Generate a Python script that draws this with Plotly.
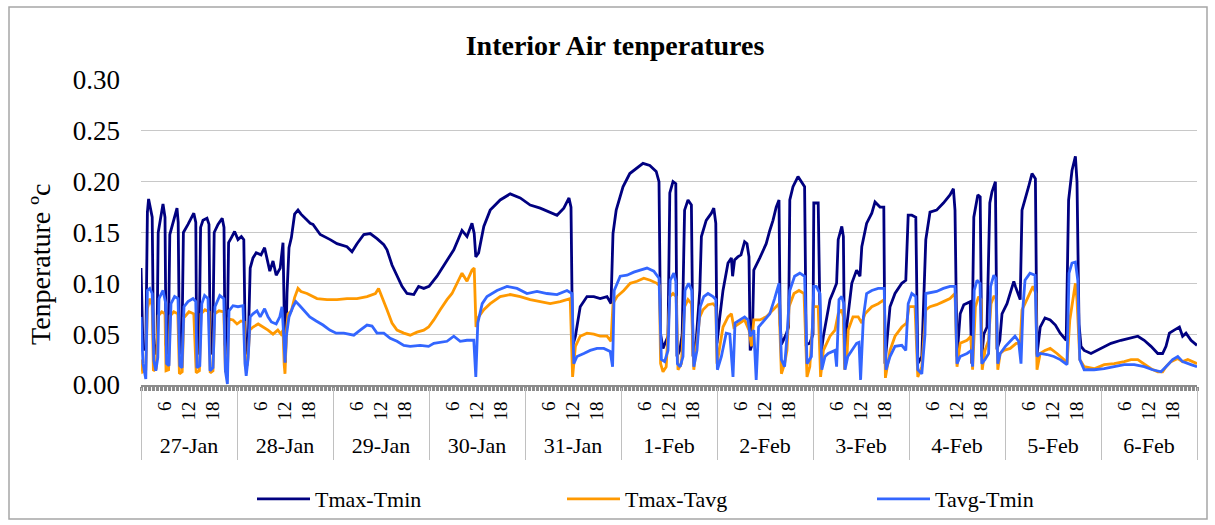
import plotly.graph_objects as go

# ---------------- data (hours from 27-Jan 00:00, value in degC) ----------------
days = ["27-Jan", "28-Jan", "29-Jan", "30-Jan", "31-Jan", "1-Feb",
        "2-Feb", "3-Feb", "4-Feb", "5-Feb", "6-Feb"]
hour_labels = ["6", "12", "18"]
y_ticks = [0.00, 0.05, 0.10, 0.15, 0.20, 0.25, 0.30]

tmax_tmin = [(0,.115),(0.5,.035),(1.2,.035),(1.6,.17),(1.9,.183),(2.5,.172),(2.8,.165),(3.1,.05),(3.4,.03),(4.0,.04),
 (4.3,.15),(5.5,.178),(6.0,.165),(6.25,.04),(6.8,.03),(7.2,.148),(8.0,.16),(9.0,.174),(9.3,.16),(9.6,.04),
 (10.2,.03),(10.6,.15),(11.75,.158),(13.2,.169),(13.7,.16),(13.9,.04),(14.5,.03),(14.9,.155),(15.5,.162),(16.5,.164),
 (17.0,.158),(17.3,.04),(17.9,.03),(18.3,.15),(19.25,.158),(20.3,.164),(20.75,.155),(21.0,.04),(21.5,.03),(21.9,.14),
 (22.6,.145),(23.4,.151),(24.25,.143),(25.1,.146),(25.7,.143),(26.0,.06),(26.3,.03),(26.8,.04),(27.3,.115),(28.0,.125),
 (28.8,.13),(30.0,.128),(30.9,.135),(31.75,.12),(32.2,.112),(33.0,.122),(33.8,.108),(34.8,.115),(35.5,.14),(35.9,.05),
 (36.1,.022),(36.5,.09),(37.0,.135),(37.6,.145),(38.4,.168),(39.25,.172),(40.0,.168),(41.3,.163),(42.3,.159),(43.0,.158),
 (44.8,.148),(47.3,.143),(49.0,.139),(51.5,.136),(52.75,.131),(54.0,.139),(55.7,.148),(57.3,.149),(59.0,.144),(60.7,.138),
 (61.5,.133),(62.75,.118),(64.0,.107),(65.25,.097),(66.5,.09),(68.2,.089),(69.4,.097),(70.7,.095),(72.0,.097),(74.0,.107),
 (76.1,.12),(78.2,.133),(80.25,.152),(81.5,.146),(82.75,.159),(83.3,.149),(83.7,.126),(84.4,.13),(85.7,.156),(87.3,.172),
 (89.8,.182),(92.3,.188),(94.8,.184),(97.3,.177),(99.8,.174),(102.3,.17),(104.0,.167),(105.7,.174),(107.0,.184),(107.5,.175),
 (107.9,.038),(108.6,.048),(109.8,.077),(111.5,.087),(113.2,.087),(114.8,.085),(116.5,.087),(117.5,.08),(118.0,.149),(118.8,.172),
 (120.5,.195),(122.2,.208),(123.8,.213),(125.5,.218),(127.2,.216),(128.8,.21),(129.5,.2),(129.9,.05),(130.5,.036),(131.75,.048),
 (132.2,.189),(133.0,.2),(133.7,.198),(134.0,.028),(134.7,.034),(135.3,.05),(135.9,.172),(136.75,.182),(137.6,.177),(138.0,.028),
 (138.8,.044),(139.7,.093),(140.1,.146),(140.5,.152),(141.3,.162),(142.6,.169),(143.2,.174),(143.7,.159),(144.0,.041),(144.7,.067),
 (145.5,.093),(146.75,.12),(147.6,.125),(147.9,.107),(148.4,.123),(149.2,.126),(150.0,.128),(150.9,.141),(151.5,.139),(152.0,.126),
 (152.3,.034),(152.8,.04),(153.2,.113),(154.7,.125),(156.3,.139),(157.2,.152),(158.0,.162),(158.8,.175),(159.5,.182),(159.8,.06),
 (160.1,.04),(161.3,.05),(161.9,.057),(162.2,.182),(163.0,.195),(164.25,.205),(165.1,.2),(165.9,.195),(166.3,.04),(167.2,.041),
 (168.0,.05),(168.2,.179),(169.3,.179),(169.9,.028),(170.6,.048),(171.4,.067),(172.25,.084),(173.1,.092),(173.9,.1),(174.3,.143),
 (175.2,.156),(175.6,.146),(175.9,.021),(176.5,.06),(177.7,.1),(178.9,.113),(179.75,.107),(180.2,.136),(181.4,.159),(182.7,.169),
 (183.5,.18),(184.75,.175),(185.7,.175),(186.0,.021),(187.25,.077),(188.5,.09),(190.2,.1),(191.2,.103),(191.8,.167),(192.7,.167),
 (193.7,.165),(194.2,.021),(195.2,.028),(196.2,.143),(197.25,.17),(198.9,.172),(200.6,.179),(202.25,.187),(203.1,.193),(203.5,.172),
 (204.0,.028),(204.8,.07),(205.7,.079),(207.3,.082),(207.7,.021),(208.2,.165),(209.2,.187),(209.8,.185),(210.2,.028),(210.7,.05),
 (211.5,.057),(212.2,.179),(212.75,.19),(213.6,.2),(214.0,.035),(214.7,.044),(215.25,.07),(216.5,.08),(217.3,.09),(218.2,.102),
 (218.6,.097),(219.4,.087),(219.8,.084),(220.25,.172),(221.0,.182),(221.9,.195),(222.75,.208),(223.6,.203),(224.0,.03),(224.8,.057),
 (226.0,.066),(227.3,.064),(228.6,.059),(229.8,.051),(231.3,.044),(231.9,.182),(232.75,.211),(233.6,.225),(234.0,.2),(234.5,.06),
 (235.0,.038),(235.8,.034),(237.5,.031),(240.0,.036),(242.5,.041),(245.0,.044),(247.5,.046),(249.2,.048),(250.8,.044),(252.5,.038),
 (254.2,.031),(255.4,.031),(256.25,.038),(257.1,.051),(258.3,.054),(259.6,.057),(260.4,.048),(261.25,.051),(262.5,.044),(264.0,.039)]

tmax_tavg = [(0,.025),(0.4,.013),(1.2,.015),(1.6,.075),(2.2,.085),(2.8,.078),(3.1,.014),(3.8,.016),(4.3,.068),(5.2,.072),
 (6.0,.07),(6.25,.014),(6.9,.015),(7.3,.068),(8.2,.072),(9.2,.07),(9.6,.011),(10.3,.013),(10.7,.066),(12.0,.072),
 (13.2,.07),(13.8,.012),(14.6,.014),(15.0,.07),(16.0,.074),(17.0,.072),(17.3,.012),(18.0,.014),(18.4,.07),(19.5,.073),
 (20.7,.072),(21.1,.014),(21.6,.014),(22.0,.065),(23.0,.064),(24.0,.06),(25.0,.063),(25.8,.062),(26.1,.017),(26.6,.02),
 (27.2,.054),(28.0,.057),(29.3,.06),(30.5,.057),(31.75,.054),(33.0,.05),(34.2,.054),(35.0,.05),(35.5,.054),(35.8,.02),
 (36.0,.011),(36.4,.055),(36.75,.07),(37.6,.073),(38.4,.086),(39.25,.095),(40.0,.092),(41.5,.09),(44.0,.085),(46.5,.084),
 (49.0,.084),(51.5,.085),(54.0,.085),(56.5,.087),(58.6,.09),(59.4,.095),(60.25,.087),(61.5,.074),(62.75,.061),(64.0,.054),
 (65.7,.051),(67.3,.049),(69.0,.052),(70.7,.054),(71.9,.057),(73.2,.064),(74.8,.074),(76.5,.084),(77.75,.09),(79.0,.1),
 (80.25,.11),(81.5,.102),(82.75,.113),(83.3,.115),(83.75,.057),(84.4,.067),(85.7,.074),(87.3,.08),(89.8,.087),(92.3,.089),
 (94.8,.087),(97.3,.084),(99.8,.082),(102.3,.08),(104.8,.082),(107.3,.085),(107.9,.008),(108.6,.038),(109.8,.048),(111.5,.051),
 (113.2,.05),(114.8,.048),(116.5,.048),(117.5,.043),(118.0,.08),(119.0,.087),(120.7,.093),(122.3,.1),(124.0,.102),(125.7,.105),
 (127.3,.103),(129.0,.1),(129.6,.098),(129.9,.021),(130.5,.013),(131.3,.018),(132.2,.087),(133.0,.09),(133.8,.087),(134.25,.015),
 (135.1,.021),(135.9,.077),(136.75,.084),(137.6,.08),(138.2,.015),(138.8,.034),(139.7,.067),(140.5,.074),(141.75,.079),(143.0,.08),
 (143.7,.077),(144.0,.021),(144.7,.038),(145.5,.057),(146.75,.067),(147.6,.07),(148.2,.057),(149.7,.061),(150.9,.064),(152.0,.054),
 (152.6,.038),(153.2,.064),(154.7,.064),(156.3,.067),(158.0,.074),(159.5,.08),(160.1,.011),(160.9,.021),(161.5,.034),(162.0,.077),
 (163.25,.09),(164.5,.093),(165.75,.09),(166.5,.008),(167.2,.018),(168.2,.077),(169.3,.077),(169.9,.008),(170.6,.034),(171.4,.041),
 (172.25,.048),(173.5,.054),(174.3,.07),(175.2,.074),(175.6,.067),(175.9,.015),(176.5,.028),(176.8,.054),(178.0,.067),(179.3,.067),
 (180.2,.061),(181.0,.07),(182.7,.077),(184.3,.08),(185.8,.084),(186.1,.007),(187.25,.034),(188.5,.048),(190.2,.057),(191.4,.061),
 (192.0,.077),(193.5,.077),(194.2,.008),(195.2,.018),(196.2,.074),(197.25,.077),(198.9,.079),(200.6,.082),(202.25,.085),(203.5,.09),
 (204.0,.018),(204.8,.041),(206.5,.044),(207.5,.048),(207.9,.015),(208.6,.077),(209.4,.087),(210.0,.084),(210.3,.015),(211.0,.034),
 (211.9,.044),(212.5,.08),(213.2,.087),(213.75,.087),(214.2,.015),(214.8,.031),(215.7,.034),(217.3,.036),(218.8,.041),(219.8,.041),
 (220.25,.074),(221.0,.08),(222.25,.09),(223.0,.097),(223.7,.09),(224.0,.015),(224.8,.031),(226.0,.034),(227.3,.036),(229.0,.031),
 (230.7,.025),(231.5,.021),(232.2,.064),(233.2,.09),(233.6,.1),(234.0,.084),(234.7,.025),(235.8,.018),(238.3,.016),(240.8,.02),
 (243.3,.021),(245.8,.023),(247.5,.025),(249.2,.025),(250.8,.021),(252.5,.016),(254.2,.013),(255.4,.013),(256.25,.018),(257.5,.023),
 (259.2,.026),(260.4,.023),(261.7,.025),(262.8,.023),(264.0,.021)]

tavg_tmin = [(0,.067),(0.5,.021),(1.2,.006),(1.6,.093),(2.2,.095),(2.8,.09),(3.2,.024),(3.7,.014),(4.2,.027),(4.5,.085),
 (5.5,.093),(6.2,.08),(6.4,.021),(7.0,.019),(7.5,.08),(8.4,.087),(9.25,.085),(9.7,.019),(10.25,.017),(10.75,.077),
 (11.75,.082),(13.0,.085),(13.7,.082),(14.0,.017),(14.7,.019),(15.2,.08),(15.9,.088),(16.75,.085),(17.25,.014),(18.0,.017),
 (18.5,.077),(19.7,.088),(20.7,.085),(21.1,.014),(21.6,.001),(22.0,.073),(23.0,.078),(24.25,.077),(25.5,.078),(26.0,.021),
 (26.3,.009),(26.8,.027),(27.3,.067),(28.0,.07),(29.0,.073),(29.8,.067),(30.9,.075),(31.75,.067),(32.6,.062),(33.8,.06),
 (34.7,.067),(35.25,.077),(35.7,.047),(36.0,.022),(36.3,.047),(37.0,.067),(38.0,.077),(38.7,.082),(39.7,.078),(40.9,.073),
 (42.2,.067),(43.8,.063),(45.5,.059),(47.2,.054),(48.8,.051),(50.7,.051),(53.2,.049),(54.8,.054),(56.5,.059),(57.75,.058),
 (59.0,.051),(60.7,.051),(62.3,.046),(64.0,.043),(65.7,.039),(67.3,.038),(69.8,.039),(71.9,.038),(73.2,.041),(76.5,.043),
 (78.2,.048),(79.8,.043),(81.5,.044),(83.2,.044),(83.7,.008),(84.2,.061),(85.3,.08),(86.5,.087),(89.0,.093),(91.5,.097),
 (94.0,.095),(96.5,.09),(99.0,.092),(101.5,.09),(104.0,.089),(106.5,.093),(107.75,.09),(108.2,.021),(109.0,.028),(110.7,.031),
 (112.3,.034),(114.0,.036),(115.7,.036),(117.3,.033),(117.9,.018),(118.3,.093),(119.8,.107),(121.5,.108),(123.2,.111),(124.8,.113),
 (126.5,.115),(128.2,.112),(129.5,.105),(130.1,.025),(130.9,.023),(131.75,.034),(132.3,.103),(133.2,.11),(133.7,.102),(134.1,.021),
 (134.8,.018),(135.5,.028),(136.0,.093),(136.9,.1),(137.7,.093),(138.2,.018),(139.0,.034),(139.8,.077),(140.7,.087),(141.75,.09),
 (143.0,.087),(143.7,.084),(144.1,.015),(145.1,.028),(146.3,.051),(147.2,.05),(148.0,.008),(148.5,.061),(149.7,.064),(150.9,.067),
 (151.75,.064),(152.3,.048),(153.2,.054),(153.8,.005),(154.4,.057),(155.5,.062),(157.2,.07),(158.4,.085),(159.5,.1),(160.1,.025),
 (160.9,.018),(161.5,.048),(162.2,.093),(163.4,.107),(164.7,.11),(165.9,.107),(166.5,.021),(167.6,.028),(168.2,.097),(168.8,.097),
 (169.75,.09),(170.2,.015),(171.0,.028),(171.8,.031),(173.5,.034),(173.9,.018),(174.5,.084),(175.2,.087),(175.7,.08),(176.0,.015),
 (176.7,.028),(177.7,.034),(178.9,.041),(179.5,.042),(179.9,.005),(180.6,.067),(181.4,.09),(182.7,.093),(184.3,.095),(185.8,.095),
 (186.25,.015),(187.25,.028),(188.5,.038),(190.2,.039),(191.2,.034),(191.8,.08),(192.7,.09),(193.7,.087),(194.2,.015),(195.2,.011),
 (196.0,.05),(196.2,.09),(198.9,.092),(200.6,.095),(202.25,.097),(203.5,.097),(204.0,.021),(204.8,.028),(206.5,.031),(207.6,.034),
 (207.9,.018),(208.3,.093),(209.0,.103),(209.75,.1),(210.2,.021),(211.0,.025),(211.9,.031),(212.4,.097),(213.2,.108),(213.7,.105),
 (214.2,.021),(214.8,.031),(216.1,.038),(217.3,.043),(218.5,.048),(219.4,.043),(220.0,.021),(220.5,.077),(221.0,.103),(222.25,.11),
 (223.5,.108),(224.0,.028),(224.8,.031),(226.5,.03),(228.2,.028),(229.8,.025),(231.5,.02),(232.0,.11),(232.75,.12),(233.6,.121),
 (234.2,.103),(234.7,.025),(235.8,.015),(238.3,.015),(240.8,.016),(243.3,.018),(245.8,.02),(248.3,.02),(250.8,.018),(252.9,.015),
 (255.0,.013),(256.25,.018),(257.9,.025),(259.2,.028),(260.4,.023),(262.5,.02),(264.0,.018)]

series = [("Tmax-Tmin", tmax_tmin, "#000080"),
          ("Tmax-Tavg", tmax_tavg, "#FF9900"),
          ("Tavg-Tmin", tavg_tmin, "#3366FF")]

# ---------------- figure ----------------
W, H = 1215, 525
ML, MR, MT, MB = 141, 18, 80, 40
PW, PH = W - ML - MR, H - MT - MB          # paper area in px
AXIS_Y = 385                                 # y pixel of the category axis


def py(ypix):  # pixel row -> paper fraction
    return (H - MB - ypix) / PH


def px(xpix):  # pixel column -> paper fraction
    return (xpix - ML) / PW


FONT = "Liberation Serif"
n_hours = 24 * len(days)

fig = go.Figure()
for name, pts, color in series:
    fig.add_trace(go.Scatter(x=[p[0] for p in pts], y=[p[1] for p in pts], mode="lines",
                             name=name, line=dict(color=color, width=2.8)))
# helper (empty) traces so the extra category rows exist
fig.add_trace(go.Scatter(x=[], y=[], xaxis="x2", showlegend=False, hoverinfo="skip"))
fig.add_trace(go.Scatter(x=[], y=[], xaxis="x3", showlegend=False, hoverinfo="skip"))

hour_vals = list(range(0, n_hours + 1))
hour_text = [str(h % 24) if str(h % 24) in hour_labels and h < n_hours else "" for h in hour_vals]
day_bounds = [24 * i for i in range(len(days) + 1)]
day_centers = [24 * i + 12 for i in range(len(days))]

fig.update_layout(
    width=W, height=H,
    margin=dict(l=ML, r=MR, t=MT, b=MB, autoexpand=False),
    paper_bgcolor="white", plot_bgcolor="white",
    font=dict(family=FONT, color="black"),
    title=dict(text="<b>Interior Air tenperatures</b>", x=615 / W, xref="container",
               y=1 - 45 / H, yref="container", xanchor="center", yanchor="middle",
               font=dict(family=FONT, size=28, color="black")),
    xaxis=dict(range=[0, n_hours], tickmode="array", tickvals=hour_vals, ticktext=hour_text,
               tickangle=-90, ticks="outside", ticklen=4, tickwidth=3, tickcolor="#8C8C8C",
               showline=True, linecolor="#8C8C8C", linewidth=2, showgrid=False, zeroline=False,
               tickfont=dict(family=FONT, size=19), ticklabelstandoff=3, anchor="y",
               automargin=False),
    xaxis2=dict(range=[0, n_hours], overlaying="x", anchor="free", position=py(AXIS_Y + 2),
                side="bottom", tickmode="array", tickvals=day_bounds, ticks="outside",
                ticklen=72, tickwidth=1, tickcolor="#C0C0C0", showticklabels=False,
                showline=False, showgrid=False, zeroline=False, automargin=False),
    xaxis3=dict(range=[0, n_hours], overlaying="x", anchor="free", position=py(430),
                side="bottom", tickmode="array", tickvals=day_centers, ticktext=days, ticks="",
                showline=False, showgrid=False, zeroline=False, automargin=False,
                tickfont=dict(family=FONT, size=22)),
    yaxis=dict(domain=[py(AXIS_Y), 1], range=[0, 0.30], tickmode="array", tickvals=y_ticks,
               tickformat=".2f", showgrid=True, gridcolor="#C8C8C8", gridwidth=1,
               zeroline=False, showline=False, ticks="", ticklabelstandoff=20, automargin=False,
               tickfont=dict(family=FONT, size=27)),
    legend=dict(orientation="h", x=px(252), y=py(499), xanchor="left", yanchor="middle",
                font=dict(family=FONT, size=22), entrywidth=242, itemwidth=53,
                bgcolor="rgba(0,0,0,0)"),
    annotations=[dict(text="Tenperature \u00bac", textangle=-90, xref="paper", yref="paper",
                      x=px(40), y=py(265), xanchor="center", yanchor="middle", showarrow=False,
                      font=dict(family=FONT, size=28, color="black"))],
    shapes=[dict(type="rect", xref="paper", yref="paper", x0=px(9), x1=px(1207),
                 y0=py(519), y1=py(7), line=dict(color="#A6A6A6", width=1.5),
                 fillcolor="rgba(0,0,0,0)", layer="below")],
)

fig.write_html("out.html")
